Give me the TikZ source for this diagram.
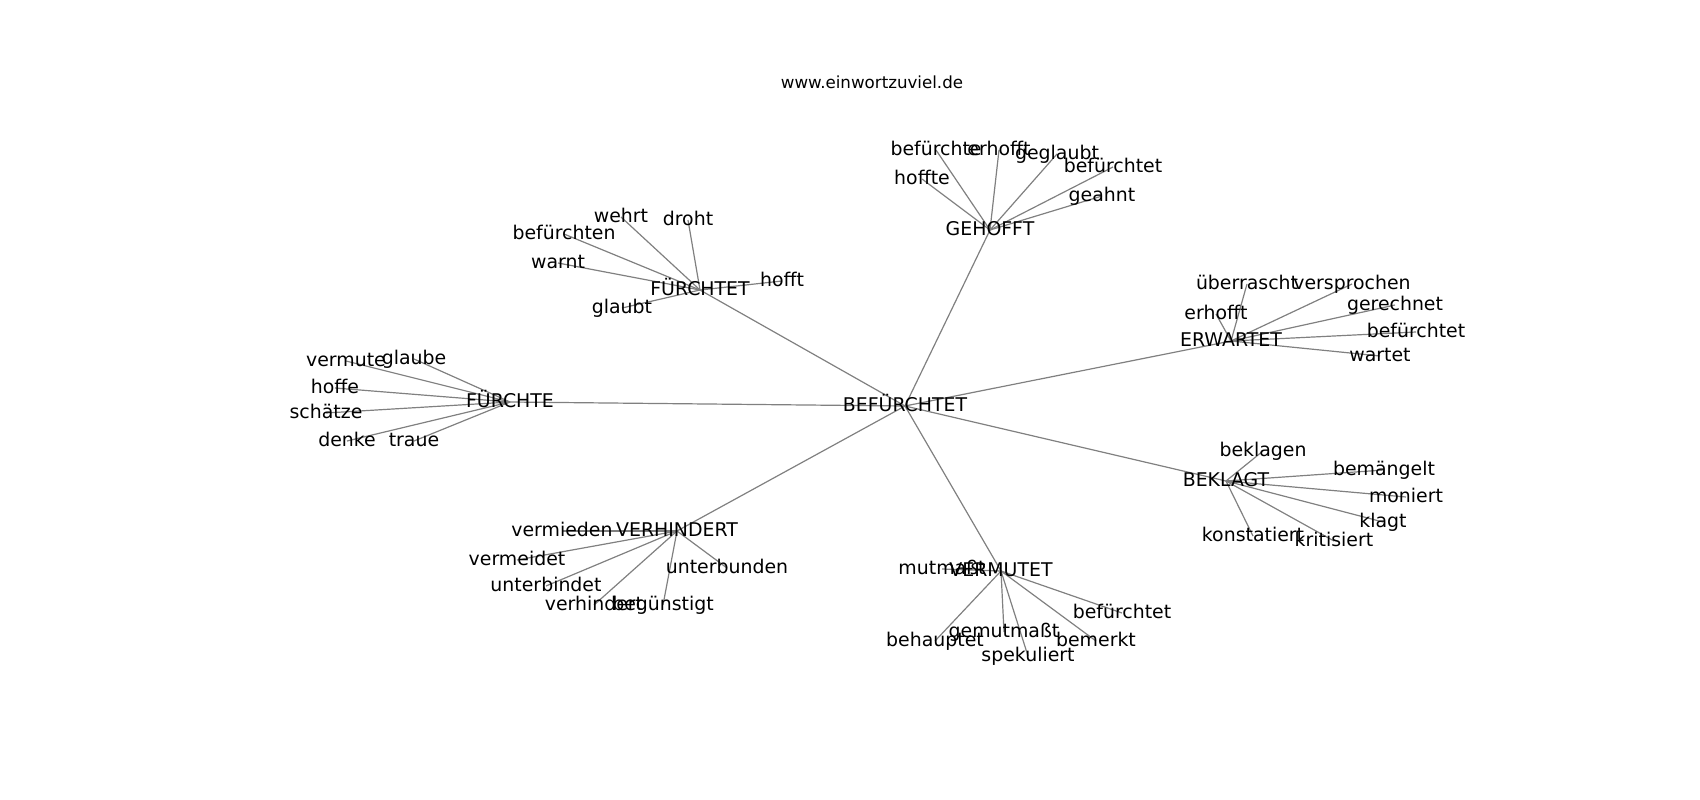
\documentclass[tikz,border=0pt]{standalone}
\usepackage{fontspec}
\setmainfont{DejaVu Sans}
\usetikzlibrary{positioning}
\pgfdeclarelayer{bg}
\pgfsetlayers{bg,main}

\begin{document}
\begin{tikzpicture}[
      x=1pt, y=-1pt,
      word/.style={inner sep=0pt, font=\fontsize{18.9}{22}\selectfont, text height=14.4pt, text depth=4pt},
      link/.style={draw=black!50, line width=1.2pt}]
  \useasboundingbox (0,0) rectangle (1700,800);

  % Title
  \node[inner sep=0pt, font=\fontsize{16.67}{20}\selectfont] (title) at (872,82) {www.einwortzuviel.de};

  % Center
  \node[word] (bef) at (905,406) {BEFÜRCHTET};

  % Hubs
  \node[word] (geh) at (990,230) {GEHOFFT};
  \node[word] (fted) at (700,290) {FÜRCHTET};
  \node[word] (fte) at (510,402) {FÜRCHTE};
  \node[word] (erw) at (1231,341) {ERWARTET};
  \node[word] (bek) at (1226,481) {BEKLAGT};
  \node[word] (verh) at (677,531) {VERHINDERT};
  \node[word] (verm) at (1001,571) {VERMUTET};

  % GEHOFFT leaves
  \node[word] (geh1) at (922,179) {hoffte};
  \node[word] (geh2) at (936,150) {befürchte};
  \node[word] (geh3) at (999,150) {erhofft};
  \node[word] (geh4) at (1057,154) {geglaubt};
  \node[word] (geh5) at (1113,167) {befürchtet};
  \node[word] (geh6) at (1102,196) {geahnt};

  % FÜRCHTET leaves
  \node[word] (fted1) at (621,217) {wehrt};
  \node[word] (fted2) at (688,220) {droht};
  \node[word] (fted3) at (564,234) {befürchten};
  \node[word] (fted4) at (558,263) {warnt};
  \node[word] (fted5) at (622,308) {glaubt};
  \node[word] (fted6) at (782,281) {hofft};

  % FÜRCHTE leaves
  \node[word] (fte1) at (346,361) {vermute};
  \node[word] (fte2) at (414,359) {glaube};
  \node[word] (fte3) at (335,388) {hoffe};
  \node[word] (fte4) at (326,413) {schätze};
  \node[word] (fte5) at (347,441) {denke};
  \node[word] (fte6) at (414,441) {traue};

  % ERWARTET leaves
  \node[word] (erw1) at (1247,284) {überrascht};
  \node[word] (erw2) at (1352,284) {versprochen};
  \node[word] (erw3) at (1216,314) {erhofft};
  \node[word] (erw4) at (1395,305) {gerechnet};
  \node[word] (erw5) at (1416,332) {befürchtet};
  \node[word] (erw6) at (1380,356) {wartet};

  % BEKLAGT leaves
  \node[word] (bek1) at (1263,451) {beklagen};
  \node[word] (bek2) at (1384,470) {bemängelt};
  \node[word] (bek3) at (1406,497) {moniert};
  \node[word] (bek4) at (1383,522) {klagt};
  \node[word] (bek5) at (1253,536) {konstatiert};
  \node[word] (bek6) at (1334,541) {kritisiert};

  % VERHINDERT leaves
  \node[word] (verh1) at (562,531) {vermieden};
  \node[word] (verh2) at (517,560) {vermeidet};
  \node[word] (verh3) at (546,586) {unterbindet};
  \node[word] (verh4) at (727,568) {unterbunden};
  \node[word] (verh5) at (594,605) {verhindert};
  \node[word] (verh6) at (663,605) {begünstigt};

  % VERMUTET leaves
  \node[word] (verm1) at (942,569) {mutmaßt};
  \node[word] (verm2) at (1122,613) {befürchtet};
  \node[word] (verm3) at (1004,632) {gemutmaßt};
  \node[word] (verm4) at (935,641) {behauptet};
  \node[word] (verm5) at (1096,641) {bemerkt};
  \node[word] (verm6) at (1028,656) {spekuliert};

  % Edges
  \begin{pgfonlayer}{bg}
    \path[link] (bef.center) edge (geh.center)
          (bef.center) edge (fted.center)
          (bef.center) edge (fte.center)
          (bef.center) edge (erw.center)
          (bef.center) edge (bek.center)
          (bef.center) edge (verh.center)
          (bef.center) edge (verm.center);
    \path[link] (geh.center) edge (geh1.center) edge (geh2.center) edge (geh3.center)
                             edge (geh4.center) edge (geh5.center) edge (geh6.center)
          (fted.center) edge (fted1.center) edge (fted2.center) edge (fted3.center)
                        edge (fted4.center) edge (fted5.center) edge (fted6.center)
          (fte.center) edge (fte1.center) edge (fte2.center) edge (fte3.center)
                       edge (fte4.center) edge (fte5.center) edge (fte6.center)
          (erw.center) edge (erw1.center) edge (erw2.center) edge (erw3.center)
                       edge (erw4.center) edge (erw5.center) edge (erw6.center)
          (bek.center) edge (bek1.center) edge (bek2.center) edge (bek3.center)
                       edge (bek4.center) edge (bek5.center) edge (bek6.center)
          (verh.center) edge (verh1.center) edge (verh2.center) edge (verh3.center)
                        edge (verh4.center) edge (verh5.center) edge (verh6.center)
          (verm.center) edge (verm1.center) edge (verm2.center) edge (verm3.center)
                        edge (verm4.center) edge (verm5.center) edge (verm6.center);
  \end{pgfonlayer}

\end{tikzpicture}
\end{document}
